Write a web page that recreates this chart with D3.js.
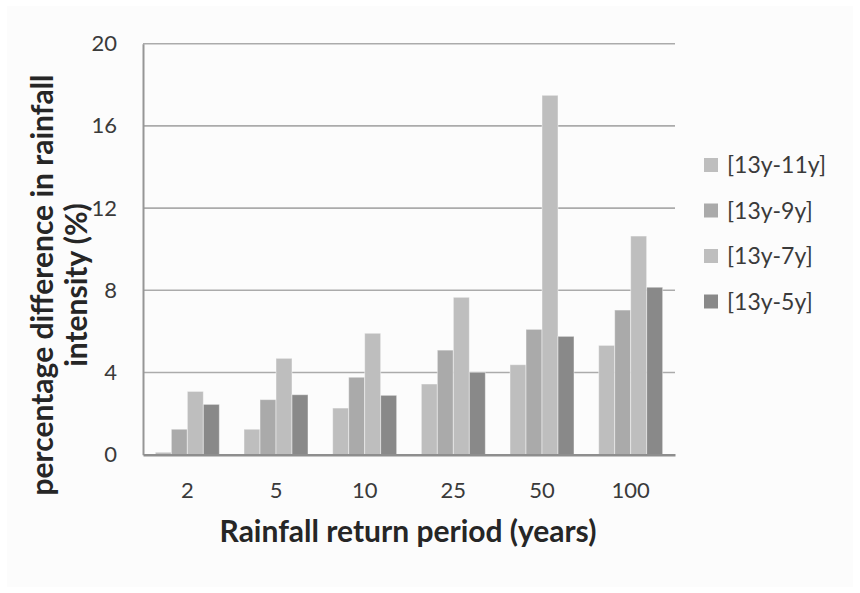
<!DOCTYPE html>
<html>
<head>
<meta charset="utf-8">
<script src="https://cdn.jsdelivr.net/npm/d3@7"></script>
<style>
  html, body { margin: 0; padding: 0; background: #ffffff; }
  svg { display: block; font-family: Lato, "Open Sans", sans-serif; }
</style>
</head>
<body>
<svg id="chart" width="860" height="593"></svg>
<script>
// Return periods (years) on the category axis
const categories = ["2", "5", "10", "25", "50", "100"];
// Series names, in legend order
const seriesNames = ["[13y-11y]", "[13y-9y]", "[13y-7y]", "[13y-5y]"];
// Percentage difference in rainfall intensity for each series, per return period
const diff13_11 = [0.12, 1.24, 2.27, 3.44, 4.38, 5.32];
const diff13_9  = [1.24, 2.68, 3.77, 5.09, 6.10, 7.04];
const diff13_7  = [3.08, 4.69, 5.91, 7.66, 17.49, 10.64];
const diff13_5  = [2.45, 2.92, 2.89, 4.01, 5.76, 8.15];
const seriesValues = [diff13_11, diff13_9, diff13_7, diff13_5];
// Value-axis tick labels
const yTicks = [0, 4, 8, 12, 16, 20];

const colors = ["#bebebe", "#aaaaaa", "#bebebe", "#898989"];

const svg = d3.select("#chart");

// Chart area backdrop
svg.append("rect")
  .attr("x", 7).attr("y", 6).attr("width", 846).attr("height", 581)
  .attr("fill", "#fcfcfc");

const plot = { left: 143, right: 675, top: 43.7, bottom: 454.7 };

const x = d3.scaleBand()
  .domain(categories)
  .range([plot.left, plot.right])
  .paddingInner(0).paddingOuter(0);

const xInner = d3.scaleBand()
  .domain(seriesNames)
  .range([0, x.bandwidth()])
  .paddingInner(0)
  .paddingOuter(0.77);

const y = d3.scaleLinear()
  .domain([0, 20])
  .range([plot.bottom, plot.top]);

// Horizontal gridlines
svg.append("g")
  .selectAll("line")
  .data(yTicks.filter(d => d > 0))
  .join("line")
  .attr("x1", plot.left).attr("x2", plot.right)
  .attr("y1", d => y(d)).attr("y2", d => y(d))
  .attr("stroke", "#ababab")
  .attr("stroke-width", 1.6);

// Bars
const rows = [];
categories.forEach((c, i) => {
  seriesNames.forEach((s, j) => {
    rows.push({ cat: c, series: s, idx: j, value: seriesValues[j][i] });
  });
});

svg.append("g")
  .selectAll("rect")
  .data(rows)
  .join("rect")
  .attr("x", d => x(d.cat) + xInner(d.series))
  .attr("y", d => y(d.value))
  .attr("width", xInner.bandwidth())
  .attr("height", d => y(0) - y(d.value))
  .attr("fill", d => colors[d.idx])
  .attr("stroke", "rgba(255,255,255,0.45)")
  .attr("stroke-width", 1);

// Axes
const yAxis = d3.axisLeft(y).tickValues(yTicks).tickSize(0).tickPadding(26);
const gy = svg.append("g")
  .attr("transform", `translate(${plot.left},0)`)
  .call(yAxis);
gy.select(".domain").attr("stroke", "#969696").attr("stroke-width", 2);
gy.selectAll("text")
  .attr("font-size", 22)
  .attr("fill", "#3a3a3a")
  .attr("font-family", "Lato, sans-serif");

const xAxis = d3.axisBottom(x).tickSize(0).tickPadding(0);
const gx = svg.append("g")
  .attr("transform", `translate(0,${plot.bottom})`)
  .call(xAxis);
gx.select(".domain").attr("stroke", "#8e8e8e").attr("stroke-width", 2.5);
gx.selectAll("text")
  .attr("font-size", 22)
  .attr("fill", "#3a3a3a")
  .attr("font-family", "Lato, sans-serif")
  .attr("dy", null)
  .attr("y", 43.6);

// Axis titles
svg.append("text")
  .attr("x", 408).attr("y", 541.7)
  .attr("text-anchor", "middle")
  .attr("font-size", 30).attr("font-weight", "bold")
  .attr("fill", "#262626")
  .text("Rainfall return period (years)");

const yTitle = svg.append("g").attr("fill", "#262626")
  .attr("font-size", 30).attr("font-weight", "bold")
  .attr("text-anchor", "middle");
yTitle.append("text")
  .attr("transform", "translate(53,285) rotate(-90)")
  .text("percentage difference in rainfall");
yTitle.append("text")
  .attr("transform", "translate(87,285) rotate(-90)")
  .text("intensity (%)");

// Legend
const legend = svg.append("g");
const legendRows = legend.selectAll("g")
  .data(seriesNames)
  .join("g")
  .attr("transform", (d, i) => `translate(704,${165 + i * 45.5})`);
legendRows.append("rect")
  .attr("x", 0).attr("y", -7).attr("width", 14).attr("height", 14)
  .attr("fill", (d, i) => colors[i]);
legendRows.append("text")
  .attr("x", 23).attr("y", 0).attr("dy", "0.36em")
  .attr("font-size", 23)
  .attr("fill", "#3a3a3a")
  .text(d => d);
</script>
</body>
</html>
